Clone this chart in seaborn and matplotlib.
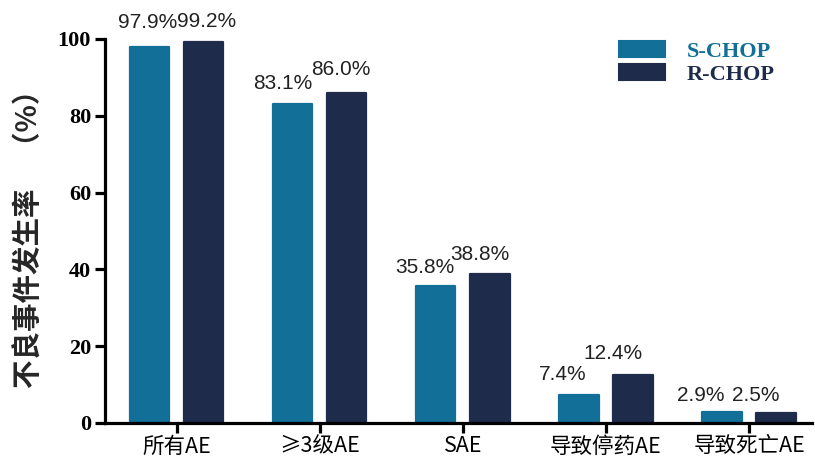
import matplotlib
matplotlib.use("Agg")
import matplotlib.pyplot as plt
from matplotlib.patches import Patch
import seaborn as sns
import pandas as pd

# Adverse-event incidence by regimen (%)
categories = ["所有AE", "≥3级AE", "SAE", "导致停药AE", "导致死亡AE"]
regimens = ["S-CHOP", "R-CHOP"]
s_chop = [97.9, 83.1, 35.8, 7.4, 2.9]
r_chop = [99.2, 86.0, 38.8, 12.4, 2.5]
y_ticks = [0, 20, 40, 60, 80, 100]

colors = {"S-CHOP": "#126f98", "R-CHOP": "#1f2b4b"}

# hand-placed nudges (pixels) for the value labels: (dx, dy above bar top)
label_nudges = {
    "S-CHOP": [(-2, 25), (-10, 20), (-11, 18), (-16, 20), (-21, 16)],
    "R-CHOP": [(3, 21), (-6, 23), (-10, 20), (-20, 22), (-20, 18)],
}

df = pd.DataFrame({
    "category": categories * 2,
    "regimen": [regimens[0]] * len(categories) + [regimens[1]] * len(categories),
    "value": s_chop + r_chop,
})

sns.set_theme(style="white")
plt.rcParams["font.family"] = ["Noto Sans CJK SC", "DejaVu Sans"]

fig = plt.figure(figsize=(8.15, 4.59), dpi=100)
ax = fig.add_axes([105 / 815, 36 / 459, (812 - 105) / 815, 384 / 459])

sns.barplot(
    data=df, x="category", y="value", hue="regimen", order=categories,
    hue_order=regimens, palette=colors, width=0.755, gap=0.27,
    saturation=1.0, legend=False, ax=ax,
)

# soften bar corners
for bar in ax.patches:
    bar.set_edgecolor(bar.get_facecolor())
    bar.set_linewidth(1.6)
    bar.set_joinstyle("round")

ax.set_xlim(-0.5, 4.44)
ax.set_ylim(0, 100)
ax.set_yticks(y_ticks)
ax.set_yticklabels([str(t) for t in y_ticks], family="Liberation Serif",
                   fontweight="bold", fontsize=16)
ax.set_xticks(range(len(categories)))
ax.set_xticklabels(categories, fontsize=15.5, fontweight="medium",
                   family=["Noto Sans CJK SC", "DejaVu Sans"])

for side in ("top", "right"):
    ax.spines[side].set_visible(False)
for side in ("left", "bottom"):
    ax.spines[side].set_linewidth(2.3)
    ax.spines[side].set_color("black")
ax.tick_params(axis="y", direction="out", length=7, width=2.3, pad=3, colors="black", left=True)
ax.tick_params(axis="x", direction="out", length=7, width=2.3, pad=2, colors="black", bottom=True)

ax.set_xlabel("")
ax.set_ylabel("不良事件发生率\u3000（%）", fontsize=20.5, fontweight="bold",
              family=["Noto Sans CJK SC", "DejaVu Sans"])
ax.yaxis.label.set_verticalalignment("center")
ax.yaxis.set_label_coords(-0.106, 0.497)

# value labels above each bar
containers = ax.containers
for reg, cont, vals in zip(regimens, containers, [s_chop, r_chop]):
    for bar, v, (dx, dy) in zip(cont, vals, label_nudges[reg]):
        cx = bar.get_x() + bar.get_width() / 2
        ax.annotate(f"{v:.1f}%", xy=(cx, v), xytext=(dx, dy),
                    textcoords="offset pixels", ha="center", va="center",
                    fontsize=15, family="Liberation Sans", color="#222222",
                    annotation_clip=False)

handles = [Patch(facecolor=colors[r], edgecolor=colors[r], linewidth=1.5,
                 joinstyle="round") for r in regimens]
leg = ax.legend(
    handles, regimens, loc="upper left", frameon=False,
    bbox_to_anchor=(619 / 815, 1 - 41 / 459), bbox_transform=fig.transFigure,
    borderaxespad=0, borderpad=0, handlelength=2.05, handleheight=0.72,
    handletextpad=1.0, labelspacing=0.12,
    prop={"family": "Liberation Serif", "weight": "bold", "size": 16},
    labelcolor=[colors[r] for r in regimens],
)

fig.savefig("out.png", dpi=100)
